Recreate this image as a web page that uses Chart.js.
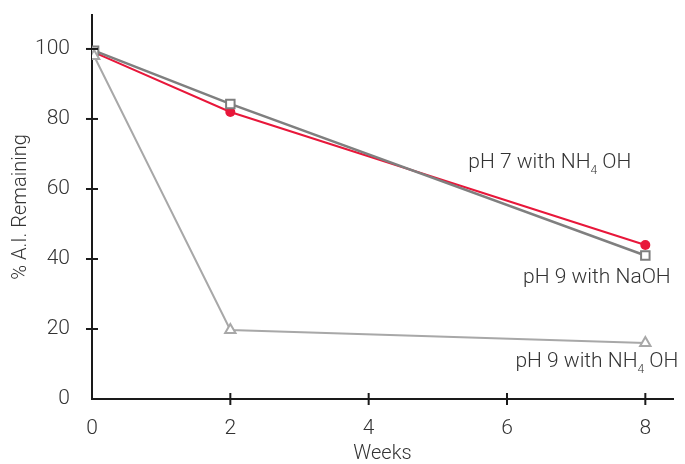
<!DOCTYPE html>
<html>
<head>
<meta charset="utf-8">
<script src="https://cdn.jsdelivr.net/npm/chart.js@4"></script>
<style>
  html, body { margin: 0; padding: 0; background: #fff; }
  #wrap { width: 685px; height: 464px; }
</style>
</head>
<body>
<div id="wrap"><canvas id="chart" width="685" height="464"></canvas></div>
<script>
// data
const weeks = [0.03, 2, 8];
const ph7NH4OH = [99, 82, 44];
const ph9NaOH = [99.5, 84.3, 41];
const ph9NH4OH = [98, 19.7, 16];

const yTicks = [0, 20, 40, 60, 80, 100];
const xTicks = [0, 2, 4, 6, 8];

const textColor = '#333333';
const fontFamily = 'Roboto, "Liberation Sans", sans-serif';

// series labels placed next to the lines (x in weeks, y in %)
const seriesLabels = [
    { text: 'pH 7 with NH', sub: '4', rest: ' OH', x: 6.62, y: 67.5 },
    { text: 'pH 9 with NaOH', sub: '', rest: '', x: 7.3, y: 34.5 },
    { text: 'pH 9 with NH', sub: '4', rest: ' OH', x: 7.3, y: 10.5 }
];

// cross ticks on both axes + series labels
const decorations = {
    id: 'decorations',
    afterDraw(chart) {
        const ctx = chart.ctx;
        const xs = chart.scales.x;
        const ys = chart.scales.y;
        ctx.save();
        ctx.strokeStyle = '#1a1a1a';
        ctx.lineWidth = 2;
        yTicks.forEach(v => {
            if (v === 0) return;
            const py = ys.getPixelForValue(v);
            ctx.beginPath();
            ctx.moveTo(xs.left - 6, py);
            ctx.lineTo(xs.left + 6, py);
            ctx.stroke();
        });
        xTicks.forEach(v => {
            if (v === 0) return;
            const px = xs.getPixelForValue(v);
            ctx.beginPath();
            ctx.moveTo(px, ys.bottom - 6);
            ctx.lineTo(px, ys.bottom + 6);
            ctx.stroke();
        });

        ctx.fillStyle = textColor;
        ctx.textBaseline = 'middle';
        seriesLabels.forEach(l => {
            const px = xs.getPixelForValue(l.x);
            const py = ys.getPixelForValue(l.y);
            ctx.font = '300 21px ' + fontFamily;
            const w1 = ctx.measureText(l.text).width;
            ctx.font = '300 12px ' + fontFamily;
            const w2 = ctx.measureText(l.sub).width;
            ctx.font = '300 21px ' + fontFamily;
            const w3 = ctx.measureText(l.rest).width;
            let x0 = px - (w1 + w2 + w3) / 2;
            ctx.textAlign = 'left';
            ctx.fillText(l.text, x0, py);
            ctx.font = '300 12px ' + fontFamily;
            ctx.fillText(l.sub, x0 + w1, py + 8);
            ctx.font = '300 21px ' + fontFamily;
            ctx.fillText(l.rest, x0 + w1 + w2, py);
        });
        ctx.restore();
    }
};

const ctx = document.getElementById('chart').getContext('2d');
new Chart(ctx, {
    type: 'line',
    data: {
        datasets: [
            {
                label: 'pH 9 with NH4 OH',
                data: weeks.map((w, i) => ({ x: w, y: ph9NH4OH[i] })),
                borderColor: '#a8a8a8',
                backgroundColor: '#ffffff',
                borderWidth: 2,
                pointStyle: 'triangle',
                pointRadius: 6,
                pointBorderWidth: 2,
                pointBorderColor: '#a8a8a8',
                tension: 0
            },
            {
                label: 'pH 9 with NaOH',
                data: weeks.map((w, i) => ({ x: w, y: ph9NaOH[i] })),
                borderColor: '#7f7f7f',
                backgroundColor: '#ffffff',
                borderWidth: 2.5,
                pointStyle: 'rect',
                pointRadius: 6,
                pointBorderWidth: 2,
                pointBorderColor: '#7f7f7f',
                tension: 0
            },
            {
                label: 'pH 7 with NH4 OH',
                data: weeks.map((w, i) => ({ x: w, y: ph7NH4OH[i] })),
                borderColor: '#e8173a',
                backgroundColor: '#e8173a',
                borderWidth: 2,
                pointStyle: 'circle',
                pointRadius: 5,
                pointBorderWidth: 0,
                tension: 0
            }
        ]
    },
    options: {
        responsive: false,
        animation: false,
        layout: { padding: { top: 15, right: 12, left: 7, bottom: 0 } },
        plugins: {
            legend: { display: false },
            tooltip: { enabled: false }
        },
        scales: {
            x: {
                type: 'linear',
                min: 0,
                max: 8.4,
                afterBuildTicks: s => { s.ticks = xTicks.map(v => ({ value: v })); },
                afterFit: s => { s.height = 65; s.paddingLeft = 0; s.paddingRight = 0; },
                grid: { display: false, drawTicks: false },
                border: { display: true, color: '#1a1a1a', width: 2 },
                ticks: {
                    padding: 17,
                    color: textColor,
                    font: { family: fontFamily, size: 21, weight: 300 }
                },
                title: {
                    display: true,
                    text: 'Weeks',
                    color: textColor,
                    padding: { top: 0, bottom: 0 },
                    font: { family: fontFamily, size: 20, weight: 300, lineHeight: 1.0 }
                }
            },
            y: {
                min: 0,
                max: 109.7,
                afterBuildTicks: s => { s.ticks = yTicks.map(v => ({ value: v })); },
                afterFit: s => { s.width = 85; s.paddingTop = 0; s.paddingBottom = 0; },
                grid: { display: false, drawTicks: false },
                border: { display: true, color: '#1a1a1a', width: 2 },
                ticks: {
                    padding: 22,
                    color: textColor,
                    font: { family: fontFamily, size: 21, weight: 300 }
                },
                title: {
                    display: true,
                    text: '% A.I. Remaining',
                    color: textColor,
                    padding: { top: 2, bottom: 4 },
                    font: { family: fontFamily, size: 20, weight: 300 }
                }
            }
        }
    },
    plugins: [decorations]
});
</script>
</body>
</html>
